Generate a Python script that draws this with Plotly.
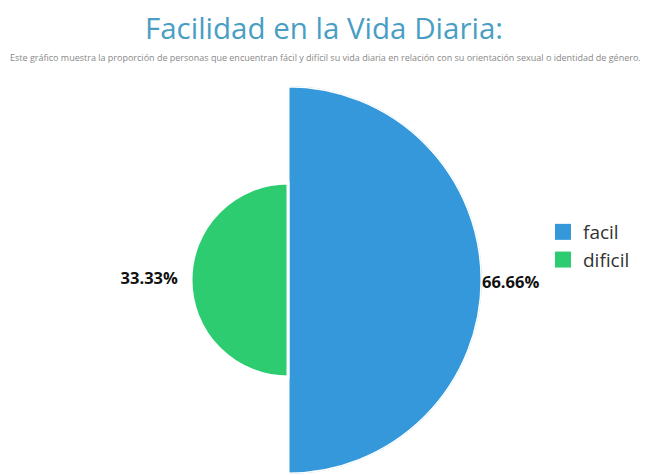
import plotly.graph_objects as go

categories = ["facil", "dificil"]
values = [66.66, 33.33]
colors = ["#3498db", "#2ecc71"]
labels = ["66.66%", "33.33%"]

title_text = "Facilidad en la Vida Diaria:"
subtitle_text = ("Este gráfico muestra la proporción de personas que encuentran fácil y difícil su vida diaria "
                 "en relación con su orientación sexual o identidad de género.")

W, H = 648, 475
OFF = 8  # page body margin
cx, cy, R = 288 - OFF, 280 - OFF, 194

# each category gets an equal angular share, radius proportional to value
n = len(categories)
share = 360 / n
thetas = [i * share for i in range(n)]

fig = go.Figure()
for cat, v, c, th in zip(categories, values, colors, thetas):
    fig.add_trace(go.Barpolar(
        r=[v], theta=[th], width=[share], name=cat,
        marker=dict(color=c, line=dict(color="white", width=3)),
        showlegend=False, hoverinfo="skip",
    ))

# value labels, outside each slice
rmax = max(values)
for v, t, th in zip(values, labels, thetas):
    right = (th % 360) < 90 or (th % 360) > 270
    fig.add_trace(go.Scatterpolar(
        r=[min(v + (0.0 if right else 4.5), rmax)], theta=[th - (1 if right else 0)],
        mode="text", text=[t],
        textposition="middle right" if right else "middle left",
        textfont=dict(family="Open Sans", size=16.5, color="#111111", weight="bold"),
        cliponaxis=False, showlegend=False, hoverinfo="skip",
    ))

# legend entries with larger squares
for cat, c in zip(categories, colors):
    fig.add_trace(go.Scatterpolar(
        r=[None], theta=[None], mode="markers", name=cat,
        marker=dict(symbol="square", size=19, color=c),
    ))

fig.update_layout(
    width=W, height=H,
    margin=dict(l=0, r=0, t=0, b=0),
    paper_bgcolor="white",
    font=dict(family="Open Sans"),
    title=dict(text=title_text, x=(324 - OFF) / W, xanchor="center", y=1 - (29 - OFF) / H, yanchor="middle",
               font=dict(family="Open Sans", size=29.5, color="#4a9ec4")),
    polar=dict(
        domain=dict(x=[(cx - R) / W, (cx + R) / W], y=[(H - cy - R) / H, (H - cy + R) / H]),
        bgcolor="white",
        radialaxis=dict(visible=False, range=[0, rmax]),
        angularaxis=dict(visible=False, rotation=0, direction="counterclockwise"),
        barmode="overlay",
        bargap=0,
    ),
    legend=dict(x=(551 - 2 * OFF) / W, y=1 - 205 / H, xanchor="left", yanchor="top",
                font=dict(family="Open Sans", size=19, color="#333333"),
                itemsizing="trace", bgcolor="rgba(0,0,0,0)"),
    annotations=[dict(text=subtitle_text, x=(325 - OFF) / W, y=1 - (57 - OFF) / H, xref="paper", yref="paper",
                      xanchor="center", yanchor="middle", showarrow=False,
                      font=dict(family="Open Sans", size=9, color="#888888"))],
)

fig.write_html("out.html")
